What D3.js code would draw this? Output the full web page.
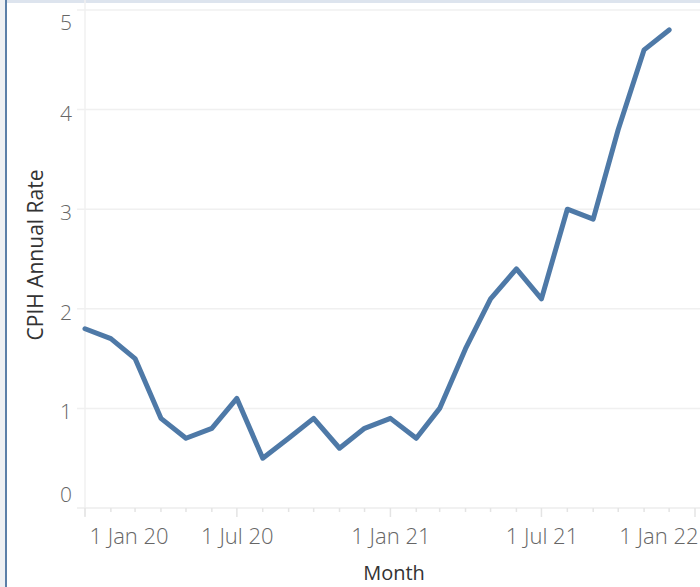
<!DOCTYPE html>
<html>
<head>
<meta charset="utf-8">
<script src="https://cdn.jsdelivr.net/npm/d3@7"></script>
<style>
  html, body { margin: 0; padding: 0; background: #fff; }
  svg { display: block; }
</style>
</head>
<body>
<svg id="chart" width="700" height="587"></svg>
<script>
// ---- data ----
const months = ["2020-01","2020-02","2020-03","2020-04","2020-05","2020-06","2020-07","2020-08","2020-09","2020-10","2020-11","2020-12",
                "2021-01","2021-02","2021-03","2021-04","2021-05","2021-06","2021-07","2021-08","2021-09","2021-10","2021-11","2021-12"];
const cpihRate = [1.8,1.7,1.5,0.9,0.7,0.8,1.1,0.5,0.7,0.9,0.6,0.8,
                  0.9,0.7,1.0,1.6,2.1,2.4,2.1,3.0,2.9,3.8,4.6,4.8];
const yTicks = [0,1,2,3,4,5];
const xTickLabels = ["1 Jan 20","1 Jul 20","1 Jan 21","1 Jul 21","1 Jan 22"];
const xTitle = "Month";
const yTitle = "CPIH Annual Rate";

const parse = d3.timeParse("%Y-%m");
const data = months.map((m, i) => ({ date: parse(m), value: cpihRate[i] }));

const svg = d3.select("#chart");
const W = 700, H = 587;

// frame decorations
svg.append("rect").attr("x", 0).attr("y", 0).attr("width", 5).attr("height", H).attr("fill", "#eef0f3");
svg.append("rect").attr("x", 7).attr("y", 0).attr("width", W - 7).attr("height", 3).attr("fill", "#dde4ee");
svg.append("rect").attr("x", 5).attr("y", 0).attr("width", 2).attr("height", H).attr("fill", "#5b7fa8");

const pLeft = 85, pRight = 695, pTop = 10, pBottom = 508;

const x = d3.scaleTime()
  .domain([new Date(2020, 0, 1), new Date(2022, 0, 1)])
  .range([pLeft, pRight]);
const y = d3.scaleLinear().domain([0, 5]).range([pBottom, pTop]);

// gridlines
svg.append("g").selectAll("line").data(yTicks.filter(d => d > 0)).join("line")
  .attr("x1", pLeft - 8).attr("x2", W)
  .attr("y1", d => y(d)).attr("y2", d => y(d))
  .attr("stroke", "#f0f0f0").attr("stroke-width", 1.5);

// y axis line
svg.append("line").attr("x1", pLeft).attr("x2", pLeft).attr("y1", pTop - 10).attr("y2", pBottom + 8)
  .attr("stroke", "#f0f0f0").attr("stroke-width", 1.5);
// x axis line
svg.append("line").attr("x1", pLeft - 8).attr("x2", W).attr("y1", pBottom).attr("y2", pBottom)
  .attr("stroke", "#ececec").attr("stroke-width", 1.5);

// x axis ticks (monthly)
const monthTicks = d3.timeMonth.range(new Date(2020, 0, 1), new Date(2022, 0, 2));
svg.append("g").selectAll("line").data(monthTicks).join("line")
  .attr("x1", d => x(d)).attr("x2", d => x(d))
  .attr("y1", pBottom)
  .attr("y2", d => (d.getMonth() % 6 === 0) ? pBottom + 9 : pBottom + 4)
  .attr("stroke", "#e4e4e4").attr("stroke-width", 1.5);

// x axis labels
const majorTicks = monthTicks.filter(d => d.getMonth() % 6 === 0);
const xAxis = d3.axisBottom(x).tickValues(majorTicks)
  .tickFormat((d, i) => xTickLabels[i]).tickSize(0).tickPadding(0);
const gx = svg.append("g").attr("transform", `translate(0,${pBottom})`).call(xAxis);
gx.select(".domain").remove();
gx.selectAll("text")
  .attr("y", 36).attr("dy", 0)
  .attr("font-family", "Open Sans").attr("font-weight", 300)
  .attr("font-size", 22).attr("fill", "#666");
// clamp labels inside the pane
gx.selectAll(".tick").each(function(d) {
  const t = d3.select(this).select("text");
  const w = this.querySelector("text").getComputedTextLength();
  const cx = x(d);
  let shift = 0;
  if (cx - w / 2 < pLeft + 4) shift = (pLeft + 4) - (cx - w / 2);
  if (cx + w / 2 > W - 2) shift = (W - 2) - (cx + w / 2);
  t.attr("x", shift);
});

// y axis labels
const yAxis = d3.axisLeft(y).tickValues(yTicks).tickFormat(d3.format("d")).tickSize(0).tickPadding(0);
const gy = svg.append("g").attr("transform", `translate(${pLeft - 13},0)`).call(yAxis);
gy.select(".domain").remove();
gy.selectAll("text")
  .attr("font-family", "Open Sans").attr("font-weight", 300)
  .attr("font-size", 21).attr("fill", "#666")
  .attr("dy", "0.36em")
  .attr("y", d => d === 5 ? 12 : (d === 0 ? -14 : 3));

// titles
svg.append("text").attr("x", 394).attr("y", 580)
  .attr("text-anchor", "middle")
  .attr("font-family", "Open Sans").attr("font-size", 20).attr("fill", "#333")
  .text(xTitle);
svg.append("text")
  .attr("transform", `translate(43,255) rotate(-90)`)
  .attr("text-anchor", "middle")
  .attr("font-family", "Open Sans").attr("font-size", 21).attr("fill", "#333")
  .text(yTitle);

// line
const line = d3.line().x(d => x(d.date)).y(d => y(d.value));
svg.append("path").datum(data)
  .attr("d", line)
  .attr("fill", "none")
  .attr("stroke", "#4e79a7")
  .attr("stroke-width", 5)
  .attr("stroke-linejoin", "round")
  .attr("stroke-linecap", "round");
</script>
</body>
</html>
